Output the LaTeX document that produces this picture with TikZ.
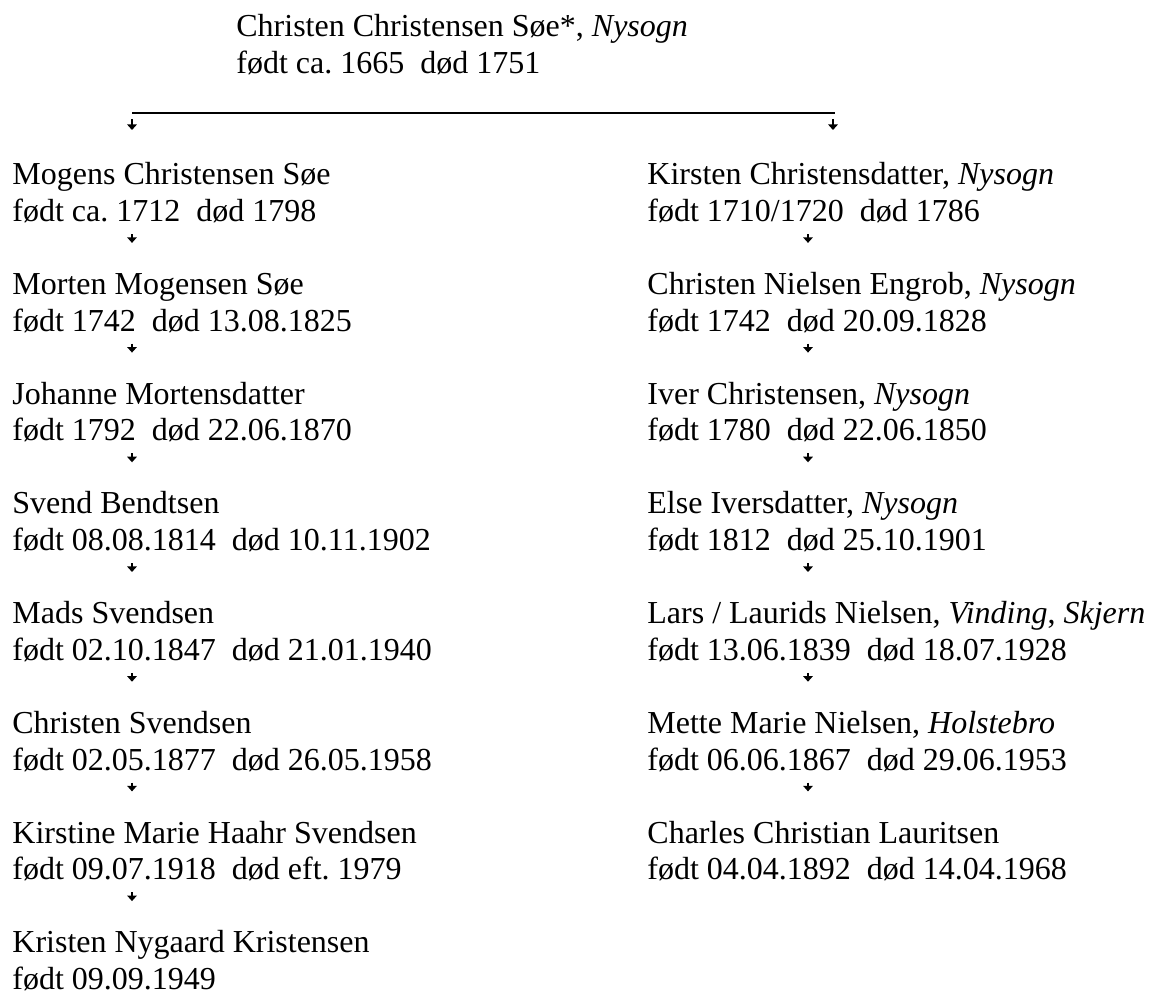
\documentclass[tikz,border=0pt]{standalone}
\usepackage{fontspec}
\setmainfont{Liberation Serif}
\usepackage{tikz}
\usetikzlibrary{arrows.meta}

% one person: name line and date line
\newcommand{\person}[2]{#1\strut\\#2\strut}

\begin{document}
\begin{tikzpicture}[
    x=0.5pt, y=-0.5pt,
    person/.style = {
        anchor=north west,
        inner sep=0pt,
        align=left,
        font=\fontsize{16}{18.35}\selectfont
    },
    rule/.style  = {line width=1pt},
    arrow/.style = {-{Triangle[length=2.8pt,width=4.8pt]}, line width=0.7pt,
                    shorten <=0.5pt, shorten >=12.8pt},
    toparrow/.style = {arrow, shorten <=3.15pt, shorten >=14.4pt}
]
\useasboundingbox (0,0) rectangle (1156,995);

% Define spacing
\def\lx{12}
\def\rx{647}
\def\firstrow{158.8}
\def\rowgap{109.7}

% Top: the common ancestor
\node[person] (ancestor) at (236,10.3) {
    \person{Christen Christensen Søe*, \textit{Nysogn}}{født ca.\ 1665\enspace død 1751}};

% Left line
\node[person] (mogens) at (\lx,\firstrow) {
    \person{Mogens Christensen Søe}{født ca.\ 1712\enspace død 1798}};
\node[person] (morten) at (\lx,\firstrow+\rowgap) {
    \person{Morten Mogensen Søe}{født 1742\enspace død 13.08.1825}};
\node[person] (johanne) at (\lx,\firstrow+2*\rowgap) {
    \person{Johanne Mortensdatter}{født 1792\enspace død 22.06.1870}};
\node[person] (svend) at (\lx,\firstrow+3*\rowgap) {
    \person{Svend Bendtsen}{født 08.08.1814\enspace død 10.11.1902}};
\node[person] (mads) at (\lx,\firstrow+4*\rowgap) {
    \person{Mads Svendsen}{født 02.10.1847\enspace død 21.01.1940}};
\node[person] (christen) at (\lx,\firstrow+5*\rowgap) {
    \person{Christen Svendsen}{født 02.05.1877\enspace død 26.05.1958}};
\node[person] (kirstine) at (\lx,\firstrow+6*\rowgap) {
    \person{Kirstine Marie Haahr Svendsen}{født 09.07.1918\enspace død eft.\ 1979}};
\node[person] (kristen) at (\lx,\firstrow+7*\rowgap) {
    \person{Kristen Nygaard Kristensen}{født 09.09.1949}};

% Right line
\node[person] (kirsten) at (\rx,\firstrow) {
    \person{Kirsten Christensdatter, \textit{Nysogn}}{født 1710/1720\enspace død 1786}};
\node[person] (engrob) at (\rx,\firstrow+\rowgap) {
    \person{Christen Nielsen Engrob, \textit{Nysogn}}{født 1742\enspace død 20.09.1828}};
\node[person] (iver) at (\rx,\firstrow+2*\rowgap) {
    \person{Iver Christensen, \textit{Nysogn}}{født 1780\enspace død 22.06.1850}};
\node[person] (elsedatter) at (\rx,\firstrow+3*\rowgap) {
    \person{Else Iversdatter, \textit{Nysogn}}{født 1812\enspace død 25.10.1901}};
\node[person] (lars) at (\rx,\firstrow+4*\rowgap) {
    \person{Lars / Laurids Nielsen, \textit{Vinding}, \textit{Skjern}}{født 13.06.1839\enspace død 18.07.1928}};
\node[person] (mette) at (\rx,\firstrow+5*\rowgap) {
    \person{Mette Marie Nielsen, \textit{Holstebro}}{født 06.06.1867\enspace død 29.06.1953}};
\node[person] (charles) at (\rx,\firstrow+6*\rowgap) {
    \person{Charles Christian Lauritsen}{født 04.04.1892\enspace død 14.04.1968}};

% Split under the ancestor
\coordinate (barL) at (132,112.7);
\coordinate (barR) at (835,112.7);
\coordinate (lcol) at (132,0);
\coordinate (rcol) at (808,0);
\draw[rule] (barL) -- (barR);
\draw[toparrow] (barL) -- (mogens.north -| barL);
\draw[toparrow] ([xshift=-1pt]barR) -- ([xshift=-1pt]kirsten.north -| barR);

% Arrows - left line
\foreach \a/\b in {mogens/morten, morten/johanne, johanne/svend, svend/mads,
                   mads/christen, christen/kirstine, kirstine/kristen}
    \draw[arrow] (\a.south -| lcol) -- (\b.north -| lcol);

% Arrows - right line
\foreach \a/\b in {kirsten/engrob, engrob/iver, iver/elsedatter, elsedatter/lars,
                   lars/mette, mette/charles}
    \draw[arrow] (\a.south -| rcol) -- (\b.north -| rcol);

\end{tikzpicture}
\end{document}
